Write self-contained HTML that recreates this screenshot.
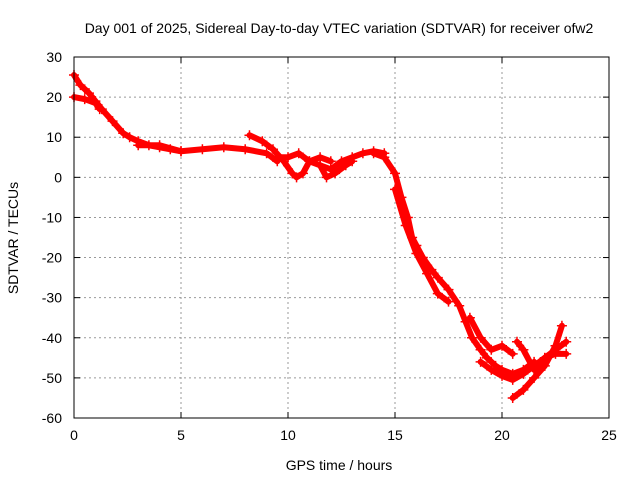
<!DOCTYPE html>
<html><head><meta charset="utf-8"><style>
body{margin:0;background:#fff;}
svg{display:block;font-family:"Liberation Sans",sans-serif;}
</style></head><body>
<svg id="chart" width="640" height="480">
<rect x="0" y="0" width="640" height="480" fill="#fff"/>
<text x="339" y="33" font-size="14" text-anchor="middle">Day 001 of 2025, Sidereal Day-to-day VTEC variation (SDTVAR) for receiver ofw2</text>
<text x="339" y="470" font-size="14" text-anchor="middle">GPS time / hours</text>
<text transform="translate(18,238) rotate(-90)" font-size="14" text-anchor="middle">SDTVAR / TECUs</text>
<g id="grid"></g><g id="series"></g>
<rect x="74" y="57" width="535" height="361" fill="none" stroke="#000"/>
</svg>
<script>
const xTicks=[0,5,10,15,20,25];
const yTicks=[30,20,10,0,-10,-20,-30,-40,-50,-60];
const arc1=[[0,25.5],[0.3,23],[0.7,21],[1,19],[1.3,17],[1.8,14],[2.3,11],[2.6,10],[3,9],[3.5,8],[4,7.5],[4.5,7],[5,6.5]];
const arc2=[[0,20],[0.5,19.5],[1,18.5],[1.2,17]];
const arc3=[[3,8],[4,8],[5,6.5],[6,7],[7,7.5],[8,7],[9,6],[9.5,4]];
const arc4=[[8.2,10.5],[8.8,9],[9.3,7],[9.8,4],[10.2,1],[10.4,0],[10.7,1],[11,4],[11.5,5],[12,4]];
const arc5=[[9.5,5],[10,5],[10.5,6],[11,4],[11.5,3],[12,2],[12.5,4],[13,5],[13.5,6],[14,6.5],[14.5,6]];
const arc6=[[11.5,3],[11.8,0],[12.2,1],[12.7,3],[13,4]];
const arc7=[[14,6],[14.5,5],[15,1],[15.3,-5],[15.6,-10],[15.8,-15],[16,-17],[16.3,-20],[16.7,-23],[17,-25],[17.5,-28],[18,-32],[18.3,-36],[18.6,-40],[19,-43],[19.3,-45],[19.7,-47],[20,-48],[20.5,-49],[21,-48],[21.5,-46]];
const arc8=[[15,-3],[15.5,-12],[16,-19],[16.5,-24],[17,-29],[17.5,-31]];
const arc9=[[18.5,-35],[19,-40],[19.5,-43],[20,-42],[20.5,-44]];
const arc10=[[19,-46],[19.5,-48],[20,-49.5],[20.5,-50.5],[21,-49],[21.5,-47],[22,-45],[22.5,-43],[23,-41]];
const arc11=[[20.5,-55],[21,-53],[21.5,-50],[22,-47],[22.5,-42],[22.8,-37]];
const arc12=[[20.7,-41],[21,-43],[21.5,-48],[22,-45],[22.5,-44],[23,-44]];
const arcs=[arc1,arc2,arc3,arc4,arc5,arc6,arc7,arc8,arc9,arc10,arc11,arc12];
const NS="http://www.w3.org/2000/svg";
const X0=74,X1=609,Y0=418,Y1=57;
function sx(v){return X0+(v-0)/(25-0)*(X1-X0);}
function sy(v){return Y0-(v+60)/(90)*(Y0-Y1);}
const grid=document.getElementById('grid'),svg=document.getElementById('chart'),ser=document.getElementById('series');
function mk(t,a,p){const e=document.createElementNS(NS,t);for(const k in a)e.setAttribute(k,a[k]);p.appendChild(e);return e;}
xTicks.forEach(t=>{const x=sx(t);
 if(t>0&&t<25){const l=mk('line',{x1:x,x2:x,y1:Y1,y2:Y0,stroke:'#999','stroke-dasharray':'2,3'},grid);
 
 }
 mk('line',{x1:x,x2:x,y1:Y0,y2:Y0-6,stroke:'#000'},grid);
 mk('line',{x1:x,x2:x,y1:Y1,y2:Y1+6,stroke:'#000'},grid);
 const tx=mk('text',{x:x,y:Y0+22,'font-size':14,'text-anchor':'middle'},svg);tx.textContent=t;
 
 
});
yTicks.forEach(t=>{const y=sy(t);
 if(t>-60&&t<30){const l=mk('line',{x1:X0,x2:X1,y1:y,y2:y,stroke:'#999','stroke-dasharray':'2,3'},grid);
 
 }
 mk('line',{x1:X0,x2:X0+6,y1:y,y2:y,stroke:'#000'},grid);
 mk('line',{x1:X1,x2:X1-6,y1:y,y2:y,stroke:'#000'},grid);
 const tx=mk('text',{x:X0-12,y:y+5,'font-size':14,'text-anchor':'end'},svg);tx.textContent=t;
 
 
});
arcs.forEach(a=>{
 const pl=mk('polyline',{points:a.map(p=>sx(p[0])+','+sy(p[1])).join(' '),fill:'none',stroke:'#f00','stroke-width':6,'stroke-linejoin':'round','stroke-linecap':'round'},ser);
 
 
 a.forEach(p=>{const x=sx(p[0]),y=sy(p[1]);
  const m=mk('path',{d:`M${x-5},${y}H${x+5}M${x},${y-5}V${y+5}`,stroke:'#f00','stroke-width':1.5},ser);
  
  
 });
});
</script>
</body></html>
